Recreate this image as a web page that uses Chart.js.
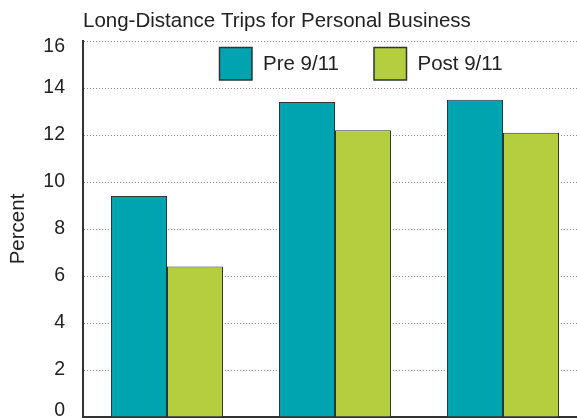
<!DOCTYPE html>
<html>
<head>
<meta charset="utf-8">
<script src="https://cdn.jsdelivr.net/npm/chart.js@4.4.1/dist/chart.umd.min.js"></script>
<style>
  html, body { margin: 0; padding: 0; background: #fff; overflow: hidden; }
  #wrap { width: 577px; height: 418px; overflow: hidden; }
  canvas { display: block; }
</style>
</head>
<body>
<div id="wrap"><canvas id="c" width="592" height="418"></canvas></div>
<script>
// Share of long-distance trips made for personal business, before and after 9/11
const categories = ['1', '2', '3'];
const preValues = [9.4, 13.4, 13.5];
const postValues = [6.4, 12.2, 12.1];
const yTicks = [0, 2, 4, 6, 8, 10, 12, 14, 16];
const seriesNames = ['Pre 9/11', 'Post 9/11'];
const chartTitle = 'Long-Distance Trips for Personal Business';
const yTitle = 'Percent';

const FONT = '"Liberation Sans", Arial, Helvetica, sans-serif';
const TEAL = '#00a4b0';
const LIME = '#b4ce3f';
const EDGE = '#2e3535';
const INK = '#222222';
const Y_MIN = yTicks[0];
const Y_MAX = yTicks[yTicks.length - 1];

// Title text and in-plot legend
const decorations = {
  id: 'decorations',
  afterDraw(chart) {
    const ctx = chart.ctx;
    const area = chart.chartArea;
    ctx.save();
    ctx.fillStyle = INK;
    ctx.font = '20.5px ' + FONT;
    ctx.textAlign = 'left';
    ctx.textBaseline = 'alphabetic';
    ctx.fillText(chartTitle, area.left, 27);

    const boxX = [219.5, 374];
    const boxY = 47.5;
    const boxS = 32.5;
    ctx.font = '20.5px ' + FONT;
    ctx.textBaseline = 'middle';
    chart.data.datasets.forEach((ds, i) => {
      ctx.fillStyle = ds.backgroundColor;
      ctx.fillRect(boxX[i], boxY, boxS, boxS);
      ctx.lineWidth = 1.5;
      ctx.strokeStyle = EDGE;
      ctx.strokeRect(boxX[i], boxY, boxS, boxS);
      ctx.fillStyle = INK;
      ctx.fillText(ds.label, boxX[i] + boxS + 11, boxY + boxS / 2 + 1);
    });
    ctx.restore();
  }
};

// End labels are nudged inward so they stay inside the canvas
function isEndTick(v) { return v === Y_MIN || v === Y_MAX; }

new Chart(document.getElementById('c'), {
  type: 'bar',
  data: {
    labels: categories,
    datasets: [
      { label: seriesNames[0], data: preValues, backgroundColor: TEAL, borderColor: EDGE, borderWidth: 1 },
      { label: seriesNames[1], data: postValues, backgroundColor: LIME, borderColor: EDGE, borderWidth: 1 }
    ]
  },
  options: {
    responsive: false,
    animation: false,
    devicePixelRatio: 1,
    layout: { padding: { top: 41, right: 5, bottom: 0, left: 0 } },
    datasets: { bar: { categoryPercentage: 112 / 168, barPercentage: 1.0 } },
    plugins: {
      legend: { display: false },
      title: { display: false },
      tooltip: { enabled: false }
    },
    scales: {
      x: {
        ticks: { display: false },
        grid: { display: false },
        border: { display: true, color: '#333', width: 2 },
        afterFit(s) { s.height = 1; s.paddingLeft = 0; s.paddingRight = 0; }
      },
      y: {
        min: Y_MIN,
        max: Y_MAX,
        afterBuildTicks(s) { s.ticks = yTicks.map(v => ({ value: v })); },
        ticks: {
          color: INK,
          font: (c) => ({
            family: FONT,
            size: 19.5,
            lineHeight: c.tick && isEndTick(c.tick.value) ? '12px' : 1.2
          }),
          padding: 18,
          callback(v) {
            if (v === Y_MAX) return ['', String(v)];
            if (v === Y_MIN) return [String(v), ''];
            return String(v);
          }
        },
        grid: { color: '#8a8a8a', lineWidth: 1, drawTicks: false },
        border: { display: true, color: '#333', width: 2, dash: [1, 2] },
        title: {
          display: true,
          text: yTitle,
          color: INK,
          font: { family: FONT, size: 20.5 },
          padding: { top: 6, bottom: 0 }
        },
        afterFit(s) { s.width = 83; s.paddingTop = 0; s.paddingBottom = 0; }
      }
    }
  },
  plugins: [decorations]
});
</script>
</body>
</html>
